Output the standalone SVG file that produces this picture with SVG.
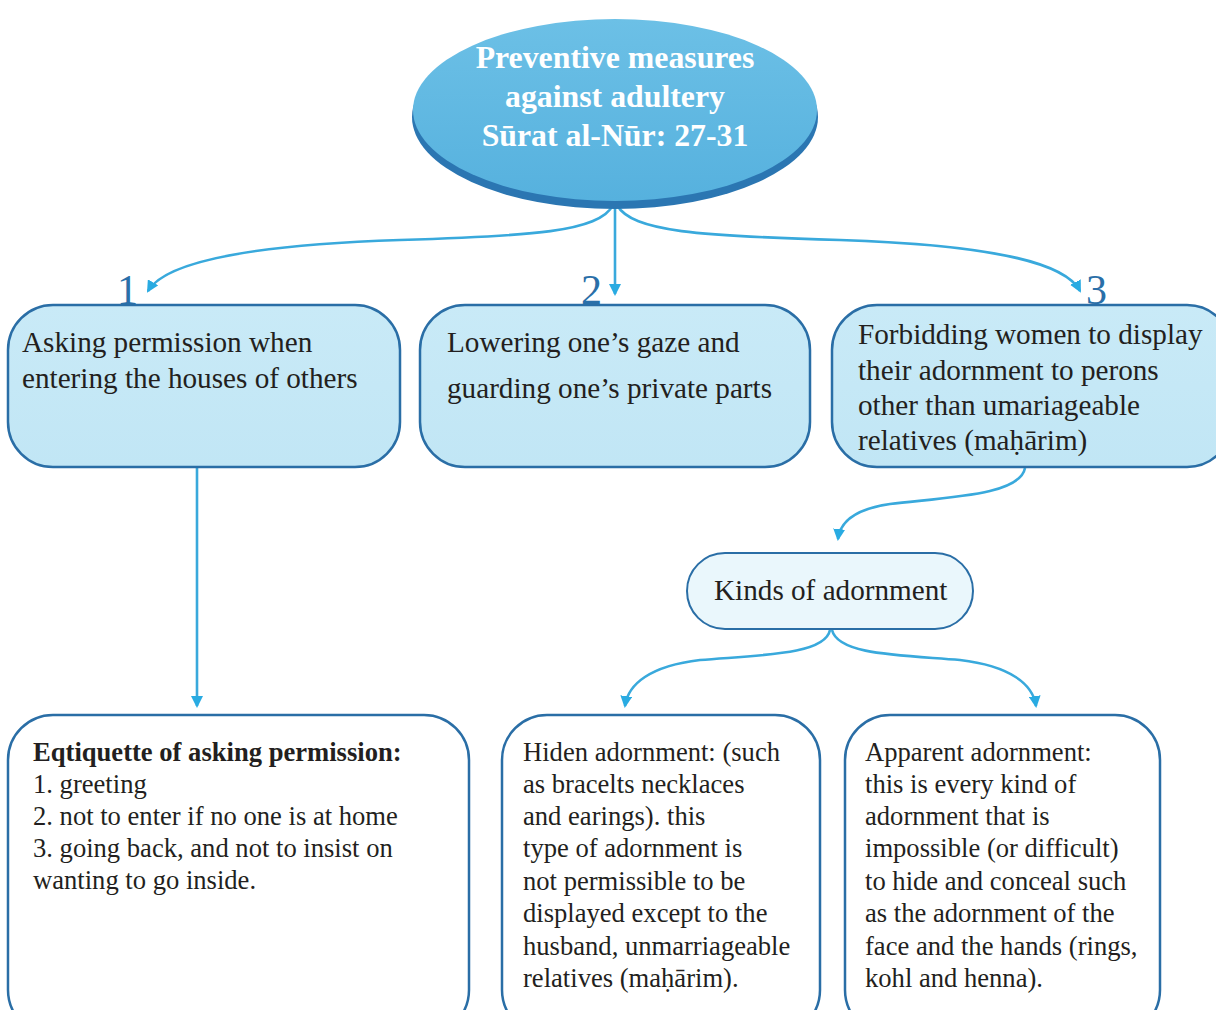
<svg xmlns="http://www.w3.org/2000/svg" width="1216" height="1010" viewBox="0 0 1216 1010">
<defs>
<style>
text{font-family:"Liberation Serif","Times New Roman",serif;fill:#231f20}
.t{font-size:29.2px}
.s{font-size:26.6px}
.num{font-size:42px;fill:#2a6fa8}
.title{font-size:31.8px;font-weight:bold;fill:#ffffff;text-anchor:middle}
.top{fill:url(#boxg);stroke:#2a6ea6;stroke-width:2.5}
.low{fill:#ffffff;stroke:#2a6ea6;stroke-width:2.5}
.con{fill:none;stroke:#39a9dc;stroke-width:2.6}
</style>
<linearGradient id="boxg" x1="0" y1="0" x2="0" y2="1">
<stop offset="0" stop-color="#c9eaf7"/>
<stop offset="1" stop-color="#c1e6f5"/>
</linearGradient>
<linearGradient id="ellg" x1="0" y1="0" x2="0" y2="1">
<stop offset="0" stop-color="#6cc0e6"/>
<stop offset="1" stop-color="#56b1de"/>
</linearGradient>
<marker id="arr" viewBox="0 0 12 12" refX="10" refY="6" markerWidth="12" markerHeight="12" markerUnits="userSpaceOnUse" orient="auto">
<path d="M0,0 L12,6 L0,12 Z" fill="#29abe2"/>
</marker>
</defs>
<rect width="1216" height="1010" fill="#ffffff"/>

<g id="connectors">
<path class="con" d="M613,205 C600,232 530,236 400,240 C250,245 165,262 148,291" marker-end="url(#arr)"/>
<path class="con" d="M615,205 L615,294" marker-end="url(#arr)"/>
<path class="con" d="M617,205 C632,232 700,236 840,240 C990,245 1065,262 1080,291" marker-end="url(#arr)"/>
<path class="con" d="M197,468 L197,706" marker-end="url(#arr)"/>
<path class="con" d="M1025,468 C1020,495 950,497 890,504 C855,509 840,522 838,539" marker-end="url(#arr)"/>
<path class="con" d="M830,630 C825,655 760,655 700,660 C650,666 628,684 625,706" marker-end="url(#arr)"/>
<path class="con" d="M832,630 C838,655 900,655 960,660 C1010,666 1033,684 1036,706" marker-end="url(#arr)"/>
</g>

<g id="root">
<ellipse cx="615" cy="117" rx="203" ry="92" fill="#2b76b2"/>
<ellipse cx="615" cy="110" rx="202" ry="91" fill="url(#ellg)"/>
<text class="title" x="615" y="68">Preventive measures</text>
<text class="title" x="615" y="107">against adultery</text>
<text class="title" x="615" y="146">Sūrat al-Nūr: 27-31</text>
</g>

<g id="n1">
<rect class="top" x="8" y="305" width="392" height="162" rx="45"/>
<text class="num" x="117" y="304">1</text>
<text class="t" x="22" y="352">Asking permission when</text>
<text class="t" x="22" y="388">entering the houses of others</text>
</g>

<g id="n2">
<rect class="top" x="420" y="305" width="390" height="162" rx="45"/>
<text class="num" x="581" y="304">2</text>
<text class="t" x="447" y="352">Lowering one’s gaze and</text>
<text class="t" x="447" y="398">guarding one’s private parts</text>
</g>

<g id="n3">
<rect class="top" x="832" y="305" width="400" height="162" rx="45"/>
<text class="num" x="1086" y="304">3</text>
<text class="t" x="858" y="344">Forbidding women to display</text>
<text class="t" x="858" y="380">their adornment to perons</text>
<text class="t" x="858" y="415">other than umariageable</text>
<text class="t" x="858" y="450">relatives (maḥārim)</text>
</g>

<g id="kinds">
<rect x="687" y="553" width="286" height="76" rx="38" fill="#eaf7fc" stroke="#2a6ea6" stroke-width="2"/>
<text class="t" x="714" y="600">Kinds of adornment</text>
</g>

<g id="etiquette">
<rect class="low" x="8" y="715" width="461" height="320" rx="45"/>
<text class="s" x="33" y="761" font-weight="bold">Eqtiquette of asking permission:</text>
<text class="s" x="33" y="793">1. greeting</text>
<text class="s" x="33" y="825">2. not to enter if no one is at home</text>
<text class="s" x="33" y="857">3. going back, and not to insist on</text>
<text class="s" x="33" y="889">wanting to go inside.</text>
</g>

<g id="hidden">
<rect class="low" x="502" y="715" width="318" height="320" rx="45"/>
<text class="s" x="523" y="761">Hiden adornment: (such</text>
<text class="s" x="523" y="793">as bracelts necklaces</text>
<text class="s" x="523" y="825">and earings). this</text>
<text class="s" x="523" y="857">type of adornment is</text>
<text class="s" x="523" y="890">not permissible to be</text>
<text class="s" x="523" y="922">displayed except to the</text>
<text class="s" x="523" y="955">husband, unmarriageable</text>
<text class="s" x="523" y="987">relatives (maḥārim).</text>
</g>

<g id="apparent">
<rect class="low" x="845" y="715" width="315" height="320" rx="45"/>
<text class="s" x="865" y="761">Apparent adornment:</text>
<text class="s" x="865" y="793">this is every kind of</text>
<text class="s" x="865" y="825">adornment that is</text>
<text class="s" x="865" y="857">impossible (or difficult)</text>
<text class="s" x="865" y="890">to hide and conceal such</text>
<text class="s" x="865" y="922">as the adornment of the</text>
<text class="s" x="865" y="955">face and the hands (rings,</text>
<text class="s" x="865" y="987">kohl and henna).</text>
</g>
</svg>
